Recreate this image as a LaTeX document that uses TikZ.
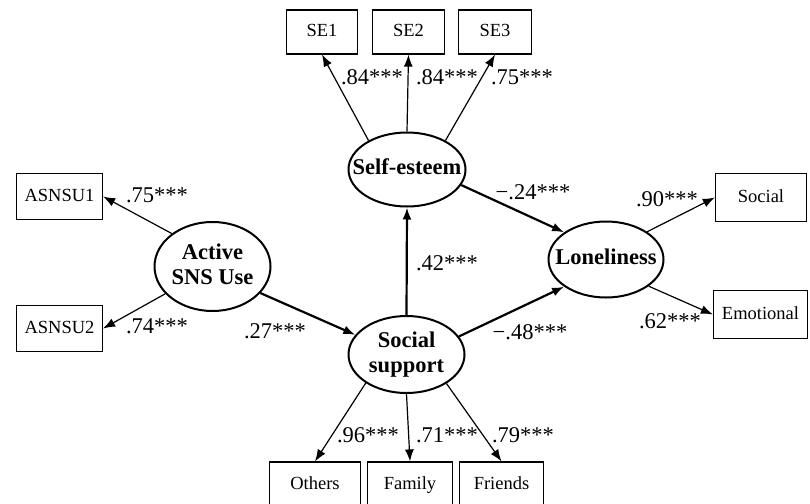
\documentclass[tikz,border=0pt]{standalone}
\usepackage{fontspec}
\setmainfont{Liberation Serif}
\usetikzlibrary{arrows,arrows.meta,shapes.geometric,positioning}

\newcommand{\latname}[1]{\makebox[0pt]{\begin{tabular}{@{}c@{}}#1\end{tabular}}}

\tikzset{
  latent/.style={ellipse,draw,line width=2pt,inner sep=0pt,
    font=\bfseries\fontsize{22.5}{25}\selectfont},
  manifest/.style={rectangle,draw,line width=1.2pt,inner sep=0pt,
    minimum height=44pt,text height=13pt,text depth=4pt,
    font=\fontsize{18.5}{21}\selectfont},
  coef/.style={inner sep=0pt,font=\fontsize{22.5}{25}\selectfont},
  load/.style={->,line width=1.2pt},
  struct/.style={->,line width=2.2pt}
}

\begin{document}
\begin{tikzpicture} [x=1pt,y=-1pt,>={Latex[length=12pt,width=9pt]}]

  \clip (0,0) rectangle (810,503);
  \fill[white] (0,0) rectangle (810,503);

  \node[latent,minimum width=116pt,minimum height=89pt] (asu) at (212.5,266.5) {\latname{Active\\SNS Use}};
  \node[latent,minimum width=117pt,minimum height=74pt] (se) at (407,169.5) {\latname{Self-esteem}};
  \node[latent,minimum width=116pt,minimum height=77pt] (ss) at (406.5,354.5) {\latname{Social\\support}};
  \node[latent,minimum width=115pt,minimum height=76pt] (lone) at (606,259.5) {\latname{Loneliness}};

  \node[manifest,minimum width=71pt] (se1) at (322,32) {SE1};
  \node[manifest,minimum width=72pt] (se2) at (408.5,32) {SE2};
  \node[manifest,minimum width=73pt] (se3) at (495,32) {SE3};
  \node[manifest,minimum width=86pt,minimum height=46pt] (asnsu1) at (59.5,196.5) {ASNSU1};
  \node[manifest,minimum width=86pt,minimum height=46pt] (asnsu2) at (59.5,328.5) {ASNSU2};
  \node[manifest,minimum width=91pt,minimum height=48pt] (social) at (761,197.5) {Social};
  \node[manifest,minimum width=94pt,minimum height=48pt] (emot) at (760.5,314.5) {Emotional};
  \node[manifest,minimum width=91pt,minimum height=46pt] (others) at (315,485) {Others};
  \node[manifest,minimum width=85pt,minimum height=46pt] (family) at (410,485) {Family};
  \node[manifest,minimum width=84pt,minimum height=46pt] (friends) at (501.5,485) {Friends};

  \draw[load] (se.143) -- (se1.south);
  \draw[load] (se.north) -- (se2.south);
  \draw[load] (se.37) -- (se3.south);
  \draw[load] (asu.141) -- (asnsu1.east);
  \draw[load] (asu.210) -- (asnsu2.east);
  \draw[load] (lone.34) -- (social.west);
  \draw[load] (lone.-32) -- (emot.west);
  \draw[load] (ss.215) -- (others.north);
  \draw[load] (ss.south) -- (family.north);
  \draw[load] (ss.-36) -- (friends.north);

  \draw[struct] (asu.-29) -- (ss.159);
  \draw[struct] (ss.north) -- (se.south);
  \draw[struct] (se.-16) -- (lone.147);
  \draw[struct] (ss.19) -- (lone.213);

  \node[coef] (cse1) at (372,77) {.84***};
  \node[coef] (cse2) at (447,77) {.84***};
  \node[coef] (cse3) at (522,77) {.75***};
  \node[coef] (casn1) at (157,195) {.75***};
  \node[coef] (casn2) at (157,326) {.74***};
  \node[coef] (casss) at (275,331) {.27***};
  \node[coef] (csse) at (447,263) {.42***};
  \node[coef] (csel) at (533,192) {−.24***};
  \node[coef] (cssl) at (530,332) {−.48***};
  \node[coef] (csoc) at (667,199) {.90***};
  \node[coef] (cemo) at (670,321) {.62***};
  \node[coef] (coth) at (368,435) {.96***};
  \node[coef] (cfam) at (447,435) {.71***};
  \node[coef] (cfri) at (523,435) {.79***};

\end{tikzpicture}
\end{document}
